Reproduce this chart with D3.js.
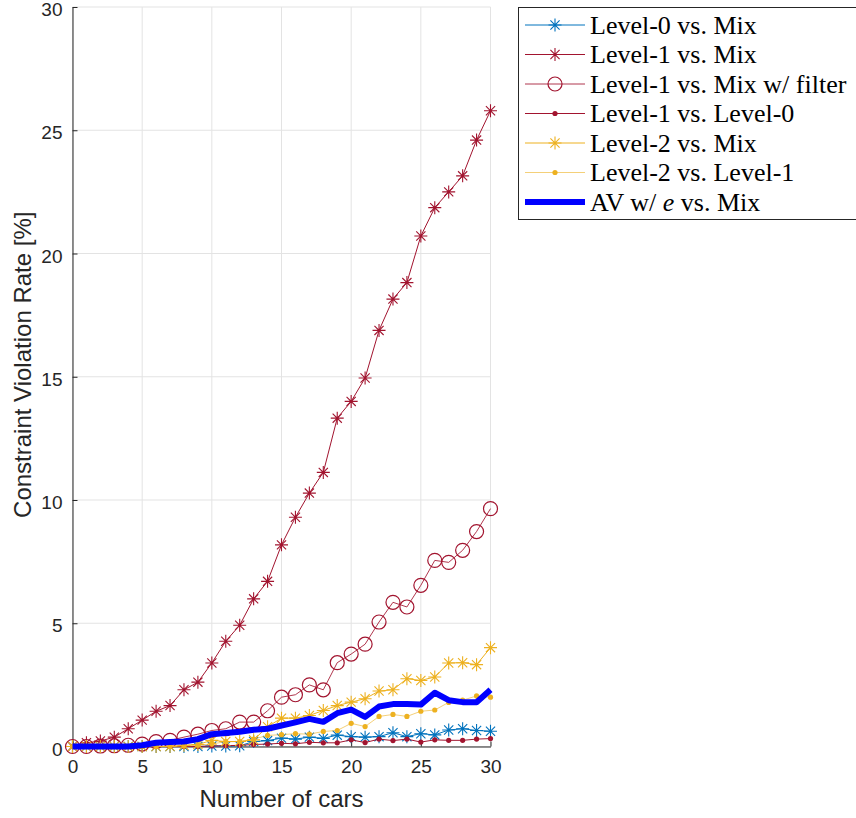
<!DOCTYPE html>
<html>
<head>
<meta charset="utf-8">
<script src="https://cdn.jsdelivr.net/npm/d3@7"></script>
<style>
  html, body { margin: 0; padding: 0; background: #fff; }
  svg { display: block; }
</style>
</head>
<body>
<svg id="chart" width="856" height="818"></svg>
<script>
// Number of cars on the x axis
const cars = d3.range(0, 31);

// Constraint violation rate [%] for each scenario
const level0VsMix = [0, 0, 0, 0, 0, 0, 0, 0, 0, 0, 0.02, 0.02, 0.03, 0.2, 0.24, 0.34, 0.3, 0.38, 0.33, 0.46, 0.4, 0.38, 0.4, 0.56, 0.4, 0.52, 0.47, 0.67, 0.72, 0.65, 0.62];
const level1VsMix = [0, 0.15, 0.22, 0.38, 0.72, 1.07, 1.43, 1.66, 2.3, 2.61, 3.39, 4.27, 4.92, 5.99, 6.7, 8.18, 9.3, 10.28, 11.12, 13.32, 14.0, 14.95, 16.88, 18.15, 18.82, 20.71, 21.86, 22.5, 23.15, 24.6, 25.79];
const level1VsMixFilter = [0, 0, 0.02, 0.03, 0.05, 0.1, 0.2, 0.25, 0.38, 0.5, 0.65, 0.72, 0.99, 0.99, 1.45, 2.0, 2.1, 2.5, 2.3, 3.4, 3.75, 4.15, 5.05, 5.85, 5.66, 6.54, 7.55, 7.47, 7.96, 8.72, 9.65];
const level1VsLevel0 = [0, 0, 0, 0, 0, 0, 0, 0, 0, 0, 0.02, 0.03, 0.05, 0.08, 0.1, 0.13, 0.11, 0.17, 0.15, 0.15, 0.27, 0.16, 0.3, 0.24, 0.3, 0.18, 0.27, 0.25, 0.25, 0.3, 0.32];
const level2VsMix = [0, 0, 0, 0, 0, 0, 0, 0, 0.05, 0.08, 0.25, 0.2, 0.2, 0.27, 0.8, 1.15, 1.15, 1.26, 1.46, 1.66, 1.8, 1.94, 2.25, 2.3, 2.75, 2.68, 2.82, 3.39, 3.4, 3.32, 4.01];
const level2VsLevel1 = [0, 0, 0, 0, 0, 0, 0, 0, 0.02, 0.05, 0.1, 0.2, 0.2, 0.3, 0.45, 0.48, 0.52, 0.5, 0.61, 0.65, 0.94, 0.81, 1.22, 1.3, 1.22, 1.43, 1.48, 1.79, 1.88, 2.05, 2.0];
const avWithEVsMix = [0, 0, 0, 0, 0, 0.05, 0.15, 0.18, 0.2, 0.3, 0.5, 0.55, 0.6, 0.68, 0.72, 0.85, 0.98, 1.12, 1.0, 1.35, 1.5, 1.2, 1.62, 1.72, 1.72, 1.7, 2.18, 1.88, 1.8, 1.8, 2.3];

// Axis ticks
const xTicks = [0, 5, 10, 15, 20, 25, 30];
const yTicks = [0, 5, 10, 15, 20, 25, 30];

// Series styling, in plotting order
const series = [
  { name: "Level-0 vs. Mix", values: level0VsMix, color: "#0072BD", lineOpacity: 1, width: 1, marker: "star" },
  { name: "Level-1 vs. Mix", values: level1VsMix, color: "#A2142F", lineOpacity: 1, width: 1, marker: "star" },
  { name: "Level-1 vs. Mix w/ filter", values: level1VsMixFilter, color: "#A2142F", lineOpacity: 0.85, width: 1, marker: "circle" },
  { name: "Level-1 vs. Level-0", values: level1VsLevel0, color: "#A2142F", lineOpacity: 1, width: 1, marker: "dot" },
  { name: "Level-2 vs. Mix", values: level2VsMix, color: "#EDB120", lineOpacity: 1, width: 1, marker: "star" },
  { name: "Level-2 vs. Level-1", values: level2VsLevel1, color: "#EDB120", lineOpacity: 0.6, width: 1, marker: "dot" },
  { name: "AV w/ e vs. Mix", values: avWithEVsMix, color: "#0000FF", lineOpacity: 1, width: 6, marker: "none" }
];

const svg = d3.select("#chart");
const plot = { left: 72.5, right: 490.5, top: 7, bottom: 746.5 };

const x = d3.scaleLinear().domain([0, 30]).range([plot.left, plot.right]);
const y = d3.scaleLinear().domain([0, 30]).range([plot.bottom, plot.top]);

// Grid
const grid = svg.append("g");
grid.selectAll("line.gx").data(xTicks).join("line")
  .attr("x1", d => x(d)).attr("x2", d => x(d))
  .attr("y1", plot.top).attr("y2", plot.bottom)
  .attr("stroke", "#e3e3e3").attr("stroke-width", 1);
grid.selectAll("line.gy").data(yTicks).join("line")
  .attr("x1", plot.left).attr("x2", plot.right)
  .attr("y1", d => y(d)).attr("y2", d => y(d))
  .attr("stroke", "#e3e3e3").attr("stroke-width", 1);

// Axes
const axisFont = "'Liberation Sans', Arial, Helvetica, sans-serif";
const xAxis = svg.append("g").attr("transform", `translate(0,${plot.bottom})`)
  .call(d3.axisBottom(x).tickValues(xTicks).tickSizeInner(-5).tickSizeOuter(0).tickPadding(13));
const yAxis = svg.append("g").attr("transform", `translate(${plot.left},0)`)
  .call(d3.axisLeft(y).tickValues(yTicks).tickSizeInner(-5).tickSizeOuter(0).tickPadding(10));
[xAxis, yAxis].forEach(a => {
  a.select(".domain").attr("stroke", "#262626").attr("stroke-width", 1);
  a.selectAll(".tick line").attr("stroke", "#262626");
  a.selectAll(".tick text").attr("fill", "#262626")
    .style("font-family", axisFont).style("font-size", "19px");
});
// y labels sit a touch below their tick so the top one stays inside the page
yAxis.selectAll(".tick text").attr("dy", "0.45em");

// Axis titles
svg.append("text")
  .attr("x", (plot.left + plot.right) / 2).attr("y", 807)
  .attr("text-anchor", "middle").attr("fill", "#262626")
  .style("font-family", axisFont).style("font-size", "24px")
  .text("Number of cars");
svg.append("text")
  .attr("transform", `translate(31,${(plot.top + plot.bottom) / 2 - 12}) rotate(-90)`)
  .attr("text-anchor", "middle").attr("fill", "#262626")
  .style("font-family", axisFont).style("font-size", "24px")
  .text("Constraint Violation Rate [%]");

// Marker drawing helpers
function starPath(r) {
  const d = r * Math.SQRT1_2;
  return `M${-r},0L${r},0M0,${-r}L0,${r}M${-d},${-d}L${d},${d}M${-d},${d}L${d},${-d}`;
}
function drawMarker(g, s, cx, cy) {
  if (s.marker === "star") {
    g.append("path").attr("d", starPath(6.5))
      .attr("transform", `translate(${cx},${cy})`)
      .attr("stroke", s.color).attr("stroke-width", 1.1).attr("fill", "none");
  } else if (s.marker === "circle") {
    g.append("circle").attr("cx", cx).attr("cy", cy).attr("r", 7)
      .attr("stroke", s.color).attr("stroke-width", 1.2).attr("fill", "none");
  } else if (s.marker === "dot") {
    g.append("circle").attr("cx", cx).attr("cy", cy).attr("r", 2.6)
      .attr("fill", s.color);
  }
}

// Series
const line = d3.line().x((d, i) => x(cars[i])).y(d => y(d));
const marks = svg.append("g");
series.forEach(s => {
  const g = marks.append("g");
  g.append("path").datum(s.values)
    .attr("d", line)
    .attr("fill", "none")
    .attr("stroke", s.color)
    .attr("stroke-opacity", s.lineOpacity)
    .attr("stroke-width", s.width)
    .attr("stroke-linejoin", "round");
  s.values.forEach((v, i) => drawMarker(g, s, x(cars[i]), y(v)));
});

// Legend
const legend = svg.append("g");
legend.append("rect")
  .attr("x", 518.5).attr("y", 7.5).attr("width", 345).attr("height", 212)
  .attr("fill", "#fff").attr("stroke", "#262626").attr("stroke-width", 1);
const legendFont = "'Liberation Serif', 'Times New Roman', serif";
series.forEach((s, i) => {
  const cy = 25 + i * 29.5;
  const g = legend.append("g");
  g.append("line").attr("x1", 525).attr("x2", 585).attr("y1", cy).attr("y2", cy)
    .attr("stroke", s.color).attr("stroke-opacity", s.lineOpacity)
    .attr("stroke-width", s.width);
  drawMarker(g, s, 555, cy);
  const t = g.append("text").attr("x", 590).attr("y", cy + 8.5)
    .attr("fill", "#000")
    .style("font-family", legendFont).style("font-size", "26px");
  if (s.name.includes(" e ")) {
    const parts = s.name.split(" e ");
    t.append("tspan").text(parts[0] + " ");
    t.append("tspan").attr("font-style", "italic").text("e");
    t.append("tspan").text(" " + parts[1]);
  } else {
    t.text(s.name);
  }
});
</script>
</body>
</html>
